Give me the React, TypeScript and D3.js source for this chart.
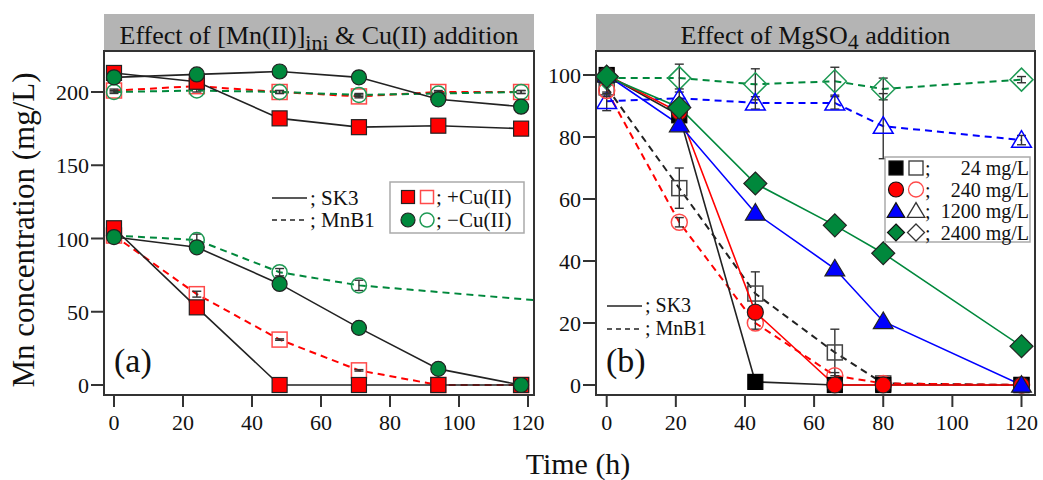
import React from "react";
import * as d3 from "d3";

// ---------- Data ----------
const timesA = [0, 24, 48, 71, 94, 118];
const timesA_mnb1NoCuLow = [0, 24, 48, 71, 142];
const sk3CuHigh = [213, 207, 182, 176, 177, 175];
const sk3NoCuHigh = [210, 212, 214, 210, 195, 190];
const mnb1CuHigh = [201, 204, 200, 197, 200, 200];
const mnb1CuHighErr = [1, 1.5, 1, 1, 1, 1];
const mnb1NoCuHigh = [200, 201, 200, 198, 199, 200];
const mnb1NoCuHighErr = [1, 1, 1, 1, 1, 1];
const sk3CuLow = [107, 53, 0, 0, 0, 0];
const sk3NoCuLow = [101, 94, 69, 39, 11, 0];
const mnb1CuLow = [102, 62, 31, 10, 0, 0];
const mnb1CuLowErr = [1, 2, 0.5, 0.5, 0, 0];
const mnb1NoCuLow = [102, 99, 77, 68, 54];
const mnb1NoCuLowErr = [1, 4, 2.5, 3.5, 0];

const timesB = [0, 21, 43, 66, 80, 120];
const sk3_24 = [100, 87, 1, 0, 0, 0];
const mnb1_24 = [96, 63.5, 29.5, 10.5, 0.5, 0];
const mnb1_24Err = [2, 6.5, 7, 7.5, 0.5, 0];
const sk3_240 = [100, 88, 23.5, 0, 0, 0];
const mnb1_240 = [95, 52.5, 20, 3, 0.5, 0];
const mnb1_240Err = [2, 1.5, 2, 1, 0, 0];
const sk3_1200 = [100, 84, 55.5, 37.5, 20.5, 0];
const mnb1_1200 = [91.5, 92.5, 91, 91, 83.5, 79];
const mnb1_1200Err = [3, 3, 2, 2, 10.5, 1.5];
const sk3_2400 = [99.5, 89.5, 65, 51.5, 42.5, 12.5];
const mnb1_2400 = [99, 99, 97, 98, 95.5, 98.5];
const mnb1_2400Err = [2, 4.5, 5, 4.5, 3.5, 1];

const xTicks = [0, 20, 40, 60, 80, 100, 120];
const yTicksA = [0, 50, 100, 150, 200];
const yTicksB = [0, 20, 40, 60, 80, 100];

const RED = "#ff0000";
const GREEN = "#00883c";
const BLUE = "#0000ff";
const FONT = "Liberation Serif, Times New Roman, serif";

type Shape = "square" | "circle" | "triangle" | "diamond";
interface Series {
  t: number[];
  v: number[];
  err?: number[];
  line: string;
  dashed: boolean;
  shape: Shape;
  fill: string;
  stroke: string;
  size: number;
  markers?: boolean;
}

function Marker({ shape, x, y, size, fill, stroke, sw = 1.2 }: any) {
  const h = size / 2;
  if (shape === "square")
    return <rect x={x - h} y={y - h} width={size} height={size} fill={fill} stroke={stroke} strokeWidth={sw} />;
  if (shape === "circle") return <circle cx={x} cy={y} r={h} fill={fill} stroke={stroke} strokeWidth={sw} />;
  if (shape === "triangle") {
    const p = `${x},${y - h * 1.05} ${x - h * 1.1},${y + h * 0.8} ${x + h * 1.1},${y + h * 0.8}`;
    return <polygon points={p} fill={fill} stroke={stroke} strokeWidth={sw} strokeLinejoin="miter" />;
  }
  const p = `${x},${y - h} ${x + h},${y} ${x},${y + h} ${x - h},${y}`;
  return <polygon points={p} fill={fill} stroke={stroke} strokeWidth={sw} />;
}

function Panel({ id, left, right, top, bottom, xr, yDomain, yr, yTicks, series, title }: any) {
  const x = d3.scaleLinear().domain([0, 120]).range(xr);
  const y = d3.scaleLinear().domain(yDomain).range(yr);
  const line = d3
    .line<[number, number]>()
    .x((d) => x(d[0]))
    .y((d) => y(d[1]));
  const clipId = `clip-${id}`;
  const dashedS = series.filter((s: Series) => s.dashed);
  const solidS = series.filter((s: Series) => !s.dashed);
  const renderLines = (list: Series[]) =>
    list.map((s, i) => (
      <path
        key={i}
        d={line(s.t.map((t, j) => [t, s.v[j]]) as [number, number][]) || ""}
        fill="none"
        stroke={s.line}
        strokeWidth={s.dashed ? 2 : 1.6}
        strokeDasharray={s.dashed ? "7,5" : undefined}
      />
    ));
  const renderMarkers = (list: Series[]) =>
    list.map((s, i) => (
      <g key={i}>
        {s.err &&
          s.t.map((t, j) => {
            const e = s.err![j];
            if (!e) return null;
            const cx = x(t);
            const y1 = y(s.v[j] + e);
            const y2 = y(s.v[j] - e);
            return (
              <g key={j} stroke="#333" strokeWidth={1.4}>
                <line x1={cx} x2={cx} y1={y1} y2={y2} />
                <line x1={cx - 4.5} x2={cx + 4.5} y1={y1} y2={y1} />
                <line x1={cx - 4.5} x2={cx + 4.5} y1={y2} y2={y2} />
              </g>
            );
          })}
        {s.markers !== false &&
          s.t.map((t, j) => (
            <Marker key={j} shape={s.shape} x={x(t)} y={y(s.v[j])} size={s.size} fill={s.fill} stroke={s.stroke} sw={s.fill === "none" ? 1.5 : 1.2} />
          ))}
      </g>
    ));
  return (
    <g>
      <defs>
        <clipPath id={clipId}>
          <rect x={left} y={top} width={right - left} height={bottom - top} />
        </clipPath>
      </defs>
      <rect x={left} y={14} width={right - left} height={top - 14} fill="#b4b4b4" />
      <text x={(left + right) / 2} y={44} textAnchor="middle" fontFamily={FONT} fontSize={26} fill="#111">
        {title}
      </text>
      <rect x={left} y={top} width={right - left} height={bottom - top} fill="#fff" />
      <g clipPath={`url(#${clipId})`}>
        {renderLines(dashedS)}
        {renderMarkers(dashedS)}
        {renderLines(solidS)}
        {renderMarkers(solidS)}
      </g>
      <rect x={left} y={top} width={right - left} height={bottom - top} fill="none" stroke="#333" strokeWidth={2} />
      {xTicks.map((t) => (
        <g key={t}>
          <line x1={x(t)} x2={x(t)} y1={bottom} y2={bottom + 12} stroke="#333" strokeWidth={2} />
          <text x={x(t)} y={bottom + 35} textAnchor="middle" fontFamily={FONT} fontSize={22} fill="#111">
            {t}
          </text>
        </g>
      ))}
      {yTicks.map((t: number) => (
        <g key={t}>
          <line x1={left - 13} x2={left} y1={y(t)} y2={y(t)} stroke="#333" strokeWidth={2} />
          <text x={left - 15} y={y(t) + 8} textAnchor="end" fontFamily={FONT} fontSize={22} fill="#111">
            {t}
          </text>
        </g>
      ))}
    </g>
  );
}

export default function App() {
  const seriesA: Series[] = [
    { t: timesA, v: mnb1CuHigh, err: mnb1CuHighErr, line: RED, dashed: true, shape: "square", fill: "none", stroke: "#ff4a4a", size: 15 },
    { t: timesA, v: mnb1NoCuHigh, err: mnb1NoCuHighErr, line: GREEN, dashed: true, shape: "circle", fill: "none", stroke: "#1f9a55", size: 15 },
    { t: timesA, v: mnb1CuLow, err: mnb1CuLowErr, line: RED, dashed: true, shape: "square", fill: "none", stroke: "#ff4a4a", size: 15 },
    { t: timesA_mnb1NoCuLow, v: mnb1NoCuLow, err: mnb1NoCuLowErr, line: GREEN, dashed: true, shape: "circle", fill: "none", stroke: "#1f9a55", size: 15 },
    { t: timesA, v: sk3CuHigh, line: "#222", dashed: false, shape: "square", fill: RED, stroke: "#222", size: 15 },
    { t: timesA, v: sk3NoCuHigh, line: "#222", dashed: false, shape: "circle", fill: GREEN, stroke: "#222", size: 15 },
    { t: timesA, v: sk3CuLow, line: "#222", dashed: false, shape: "square", fill: RED, stroke: "#222", size: 15 },
    { t: timesA, v: sk3NoCuLow, line: "#222", dashed: false, shape: "circle", fill: GREEN, stroke: "#222", size: 15 },
  ];
  const seriesB: Series[] = [
    { t: timesB, v: mnb1_2400, err: mnb1_2400Err, line: GREEN, dashed: true, shape: "diamond", fill: "none", stroke: "#1f9a55", size: 23 },
    { t: timesB, v: mnb1_1200, err: mnb1_1200Err, line: BLUE, dashed: true, shape: "triangle", fill: "none", stroke: BLUE, size: 18 },
    { t: timesB, v: mnb1_24, err: mnb1_24Err, line: "#222", dashed: true, shape: "square", fill: "none", stroke: "#444", size: 15 },
    { t: timesB, v: mnb1_240, err: mnb1_240Err, line: RED, dashed: true, shape: "circle", fill: "none", stroke: "#ff4a4a", size: 16 },
    { t: timesB, v: sk3_24, line: "#222", dashed: false, shape: "square", fill: "#000", stroke: "#000", size: 15 },
    { t: timesB, v: sk3_240, line: RED, dashed: false, shape: "circle", fill: RED, stroke: "#222", size: 16 },
    { t: timesB, v: sk3_1200, line: BLUE, dashed: false, shape: "triangle", fill: BLUE, stroke: "#222", size: 18 },
    { t: timesB, v: sk3_2400, line: GREEN, dashed: false, shape: "diamond", fill: GREEN, stroke: "#222", size: 23 },
  ];

  const legB = [
    { shape: "square", fill: "#000", open: "#333", label: "24 mg/L", size: 14 },
    { shape: "circle", fill: RED, open: "#ff4a4a", label: "240 mg/L", size: 15 },
    { shape: "triangle", fill: BLUE, open: "#333", label: "1200 mg/L", size: 16 },
    { shape: "diamond", fill: GREEN, open: "#333", label: "2400 mg/L", size: 17 },
  ];

  return (
    <svg width={1043} height={480} style={{ position: "absolute", left: 0, top: 0, background: "#fff" }}>
      <rect x={0} y={0} width={1043} height={480} fill="#fff" />
      <Panel
        id="a"
        left={104}
        right={534}
        top={51}
        bottom={395}
        xr={[114, 528]}
        yDomain={[0, 200]}
        yr={[385, 92]}
        yTicks={yTicksA}
        series={seriesA}
        title={
          <>
            Effect of [Mn(II)]
            <tspan fontSize={22} dy={6}>ini</tspan>
            <tspan dy={-6}> &amp; Cu(II) addition</tspan>
          </>
        }
      />
      <Panel
        id="b"
        left={596}
        right={1035}
        top={51}
        bottom={395}
        xr={[606.7, 1021.5]}
        yDomain={[0, 100]}
        yr={[385, 75]}
        yTicks={yTicksB}
        series={seriesB}
        title={
          <>
            Effect of MgSO
            <tspan fontSize={22} dy={5}>4</tspan>
            <tspan dy={-5}> addition</tspan>
          </>
        }
      />

      {/* Legend (a) line styles */}
      <g fontFamily={FONT} fontSize={21} fill="#111">
        <line x1={272} x2={307} y1={198} y2={198} stroke="#222" strokeWidth={1.6} />
        <text x={310} y={205}>; SK3</text>
        <line x1={272} x2={307} y1={220} y2={220} stroke="#222" strokeWidth={1.6} strokeDasharray="5,4" />
        <text x={310} y={227}>; MnB1</text>
      </g>
      {/* Legend (a) box */}
      <g fontFamily={FONT} fontSize={21} fill="#111">
        <rect x={390} y={182} width={134} height={51} fill="#fff" stroke="#aaa" strokeWidth={1.5} />
        <Marker shape="square" x={408} y={197} size={13} fill={RED} stroke="#222" />
        <Marker shape="square" x={427} y={197} size={13} fill="none" stroke="#ff4a4a" sw={1.5} />
        <text x={436} y={204}>; +Cu(II)</text>
        <Marker shape="circle" x={408} y={220} size={14} fill={GREEN} stroke="#222" />
        <Marker shape="circle" x={427} y={220} size={14} fill="none" stroke="#1f9a55" sw={1.5} />
        <text x={436} y={227}>; −Cu(II)</text>
      </g>
      <text x={114} y={372} fontFamily={FONT} fontSize={34} fill="#111">(a)</text>

      {/* Legend (b) box */}
      <g fontFamily={FONT} fontSize={20} fill="#111">
        <rect x={885} y={157} width={145} height={85} fill="#fff" stroke="#aaa" strokeWidth={1.5} />
        {legB.map((d, i) => {
          const yy = 168 + i * 21.5;
          return (
            <g key={i}>
              <Marker shape={d.shape} x={896} y={yy} size={d.size} fill={d.fill} stroke="#111" />
              <Marker shape={d.shape} x={916} y={yy} size={d.size} fill="none" stroke={d.open} sw={1.3} />
              <text x={925} y={yy + 7}>;</text>
              <text x={1029} y={yy + 7} textAnchor="end">{d.label}</text>
            </g>
          );
        })}
      </g>
      <g fontFamily={FONT} fontSize={20} fill="#111">
        <line x1={607} x2={642} y1={306} y2={306} stroke="#222" strokeWidth={1.6} />
        <text x={645} y={312}>; SK3</text>
        <line x1={607} x2={642} y1={329} y2={329} stroke="#222" strokeWidth={1.6} strokeDasharray="5,4" />
        <text x={645} y={335}>; MnB1</text>
      </g>
      <text x={606} y={372} fontFamily={FONT} fontSize={34} fill="#111">(b)</text>

      {/* Axis titles */}
      <text
        transform="translate(34,230) rotate(-90)"
        textAnchor="middle"
        fontFamily={FONT}
        fontSize={31}
        fill="#111"
      >
        Mn concentration (mg/L)
      </text>
      <text x={578} y={474} textAnchor="middle" fontFamily={FONT} fontSize={30} fill="#111">
        Time (h)
      </text>
    </svg>
  );
}
